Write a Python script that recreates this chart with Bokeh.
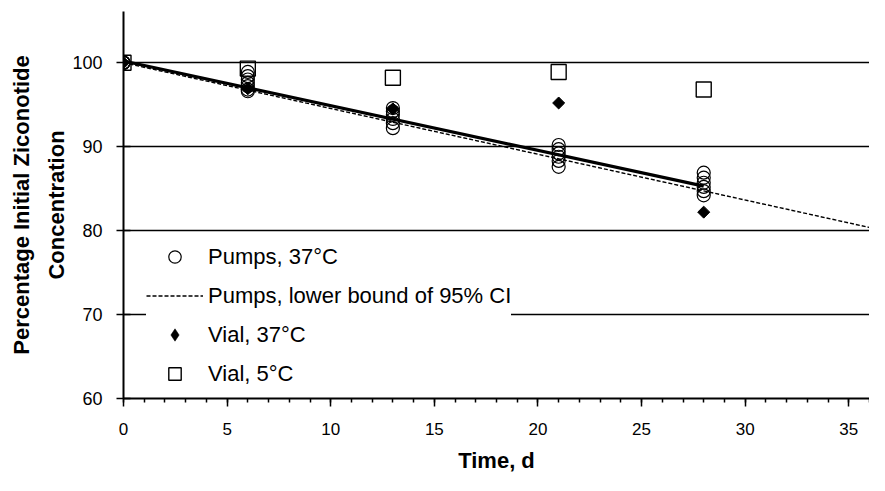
from bokeh.plotting import figure
from bokeh.models import (Range1d, SingleIntervalTicker, FixedTicker, Legend, LegendItem)
from bokeh.embed import file_html
from bokeh.resources import INLINE
import math

# ---- data ----
pump_days = [0, 0, 0, 0, 0, 0,
             6, 6, 6, 6, 6, 6, 6,
             13, 13, 13, 13, 13, 13,
             21, 21, 21, 21, 21, 21,
             28, 28, 28, 28, 28, 28]
pump_pct = [100.0, 100.0, 100.0, 100.0, 100.0, 100.0,
            98.9, 98.4, 98.0, 97.6, 97.2, 96.8, 96.6,
            94.6, 94.2, 93.8, 93.3, 92.8, 92.2,
            90.2, 89.7, 89.2, 88.8, 88.3, 87.6,
            86.9, 86.3, 85.7, 85.2, 84.7, 84.2]

vial37_days = [0, 6, 13, 21, 28]
vial37_pct = [100.0, 96.9, 94.5, 95.2, 82.2]

vial5_days = [0, 6, 13, 21, 28]
vial5_pct = [100.0, 99.3, 98.2, 98.9, 96.8]

fit_days = [0, 28]
fit_pct = [100.2, 85.3]

ci_days = [0, 36.5]
ci_pct = [100.0, 80.1]

x_ticks_major = 5
y_ticks = [60, 70, 80, 90, 100]
grid_levels = [70, 80, 90, 100]

FONT = "Liberation Sans"

p = figure(width=869, height=475, output_backend="svg", toolbar_location=None,
           x_range=Range1d(0, 36.0), y_range=Range1d(60, 106.1),
           min_border_left=123, min_border_right=0, min_border_top=11, min_border_bottom=77)
p.outline_line_color = None
p.xgrid.visible = False
p.ygrid.ticker = FixedTicker(ticks=grid_levels)
p.ygrid.grid_line_color = "black"
p.ygrid.grid_line_width = 1.5

# x axis
p.xaxis.ticker = SingleIntervalTicker(interval=x_ticks_major, num_minor_ticks=5)
p.xaxis.axis_label = "Time, d"
p.xaxis.axis_line_width = 2
p.xaxis.major_tick_out = 8
p.xaxis.major_tick_in = 0
p.xaxis.minor_tick_out = 4
p.xaxis.minor_tick_in = 0
p.xaxis.major_tick_line_width = 1.5
p.xaxis.minor_tick_line_width = 1.5
p.xaxis.major_label_standoff = 16
p.xaxis.axis_label_standoff = 10

# y axis
p.yaxis.ticker = FixedTicker(ticks=y_ticks)
p.yaxis.axis_label = "Percentage Initial Ziconotide\nConcentration"
p.yaxis.axis_line_width = 2
p.yaxis.major_tick_out = 7
p.yaxis.major_tick_in = 7
p.yaxis.minor_tick_out = 0
p.yaxis.minor_tick_in = 0
p.yaxis.major_tick_line_width = 1.5
p.yaxis.major_label_standoff = 14
p.yaxis.axis_label_standoff = 0
p.yaxis.axis_label_text_line_height = 1.4

for ax in (p.xaxis, p.yaxis):
    ax.axis_line_color = "black"
    ax.major_tick_line_color = "black"
    ax.minor_tick_line_color = "black"
    ax.major_label_text_font = FONT
    ax.major_label_text_color = "black"
    ax.axis_label_text_font = FONT
    ax.axis_label_text_font_style = "bold"
    ax.axis_label_text_font_size = "22px"
    ax.axis_label_text_color = "black"
p.xaxis.major_label_text_font_size = "17px"
p.yaxis.major_label_text_font_size = "18px"

# lines
r_ci = p.line(ci_days, ci_pct, line_color="black", line_width=1.4, line_dash="4 2")
p.line(fit_days, fit_pct, line_color="black", line_width=3.2)

# markers
r_pump = p.scatter(pump_days, pump_pct, marker="circle", size=13, fill_alpha=0,
                   line_color="black", line_width=1.2)
p.scatter(vial37_days, vial37_pct, marker="square", size=8.5, angle=math.pi / 4,
          fill_color="black", line_color="black")
# tiny diamonds hidden inside the rotated squares: they give the legend its diamond key
r_v37_key = p.scatter(vial37_days, vial37_pct, marker="diamond", size=1,
                      fill_color="black", line_color="black", line_width=0.5)
r_v5 = p.scatter(vial5_days, vial5_pct, marker="square", size=15, fill_color="white",
                 fill_alpha=0, line_color="black", line_width=1.4)

legend = Legend(items=[
    LegendItem(label="Pumps, 37°C", renderers=[r_pump]),
    LegendItem(label="Pumps, lower bound of 95% CI", renderers=[r_ci]),
    LegendItem(label="Vial, 37°C", renderers=[r_v37_key]),
    LegendItem(label="Vial, 5°C", renderers=[r_v5]),
], location=(23, 9))
legend.border_line_color = None
legend.background_fill_color = "white"
legend.background_fill_alpha = 1.0
legend.label_text_font = FONT
legend.label_text_font_size = "22px"
legend.label_text_color = "black"
legend.glyph_width = 57
legend.glyph_height = 31
legend.label_height = 31
legend.spacing = 8
legend.padding = 10
legend.margin = 0
legend.label_standoff = 5
p.add_layout(legend, "center")

open("out.html", "w").write(file_html(p, INLINE))
